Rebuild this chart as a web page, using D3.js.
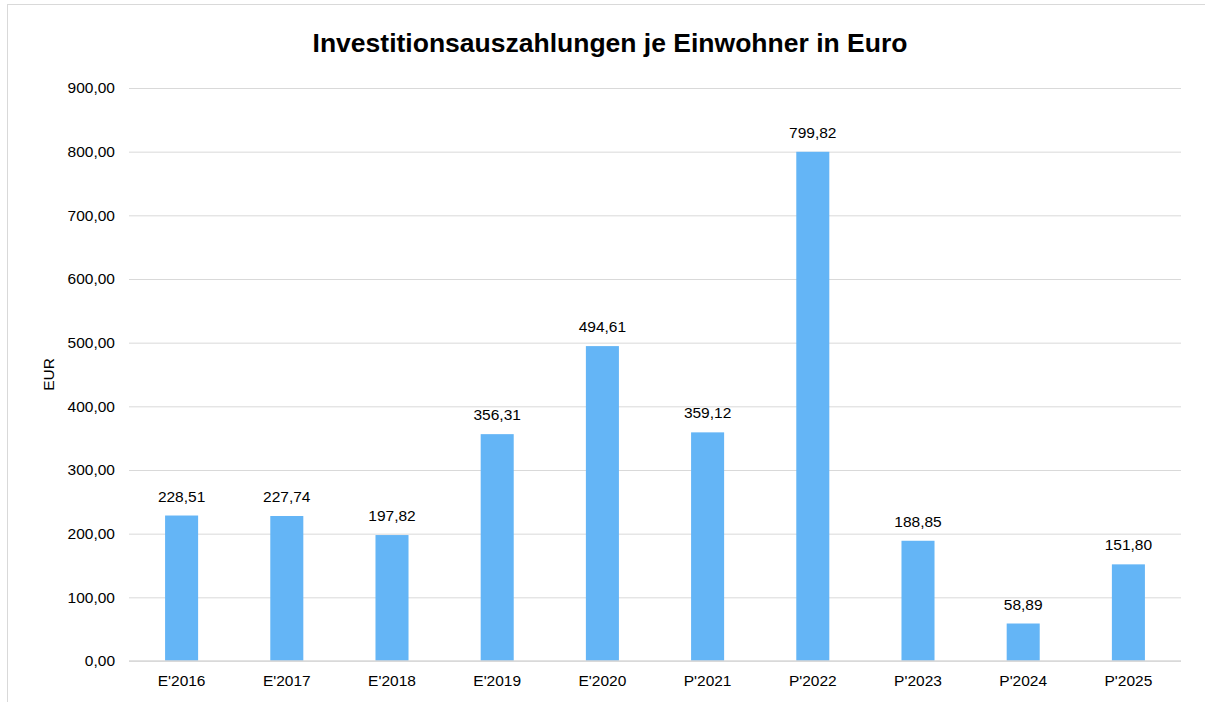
<!DOCTYPE html>
<html>
<head>
<meta charset="utf-8">
<script src="https://cdn.jsdelivr.net/npm/d3@7"></script>
<style>
  body { margin: 0; background: #fff; }
  text { font-family: "Liberation Sans", Arial, sans-serif; fill: #000; }
</style>
</head>
<body>
<div id="chart"></div>
<script>
let height = 702,
    width = 1205,
    margin = ({ top: 88, right: 24, bottom: 41, left: 129 });

const categories = ["E'2016", "E'2017", "E'2018", "E'2019", "E'2020", "P'2021", "P'2022", "P'2023", "P'2024", "P'2025"];
const values = [228.51, 227.74, 197.82, 356.31, 494.61, 359.12, 799.82, 188.85, 58.89, 151.80];
const yTicks = [0, 100, 200, 300, 400, 500, 600, 700, 800, 900];

const fmt = v => d3.format(".2f")(v).replace(".", ",");
const fs = 15.5;

const svg = d3.select("#chart")
    .append("svg")
    .attr("width", width)
    .attr("height", height);

// outer frame
svg.append("rect")
    .attr("x", 7.5).attr("y", 4.5)
    .attr("width", width).attr("height", height)
    .attr("fill", "none")
    .attr("stroke", "#d9d9d9");

let x = d3.scaleBand()
    .domain(categories)
    .range([margin.left, width - margin.right])
    .paddingInner(0.686)
    .paddingOuter(0.343);

let y = d3.scaleLinear()
    .domain([0, 900])
    .range([height - margin.bottom, margin.top]);

// gridlines + y labels
svg.append("g")
    .attr("transform", `translate(${margin.left},0)`)
    .call(d3.axisLeft(y).tickValues(yTicks).tickFormat(fmt).tickSize(-(width - margin.left - margin.right)).tickPadding(14))
    .call(g => g.select(".domain").remove())
    .call(g => g.selectAll(".tick line").attr("stroke", "#d9d9d9"))
    .call(g => g.selectAll(".tick text").attr("font-size", fs).attr("fill", "#000"));

svg.append("g")
    .selectAll("rect")
    .data(values)
    .join("rect")
    .attr("x", (d, i) => x(categories[i]))
    .attr("y", d => y(d))
    .attr("width", x.bandwidth())
    .attr("height", d => y(0) - y(d))
    .attr("fill", "#64b5f6");

// baseline
svg.append("line")
    .attr("x1", margin.left).attr("x2", width - margin.right)
    .attr("y1", y(0)).attr("y2", y(0))
    .attr("stroke", "#d9d9d9").attr("stroke-width", 1.5);

// value labels
svg.append("g")
    .selectAll("text")
    .data(values)
    .join("text")
    .attr("x", (d, i) => x(categories[i]) + x.bandwidth() / 2)
    .attr("y", d => y(d) - 14)
    .attr("text-anchor", "middle")
    .attr("font-size", fs)
    .text(d => fmt(d));

// x labels
svg.append("g")
    .attr("transform", `translate(0,${y(0)})`)
    .call(d3.axisBottom(x).tickSize(0).tickPadding(14))
    .call(g => g.select(".domain").remove())
    .call(g => g.selectAll(".tick text").attr("font-size", fs).attr("fill", "#000"));

svg.append("text")
    .attr("transform", `translate(54,${(y(0) + y(900)) / 2}) rotate(-90)`)
    .attr("text-anchor", "middle")
    .attr("font-size", fs)
    .text("EUR");

svg.append("text")
    .attr("x", 610)
    .attr("y", 52)
    .attr("text-anchor", "middle")
    .attr("font-size", 26.5)
    .attr("font-weight", "bold")
    .text("Investitionsauszahlungen je Einwohner in Euro");
</script>
</body>
</html>
